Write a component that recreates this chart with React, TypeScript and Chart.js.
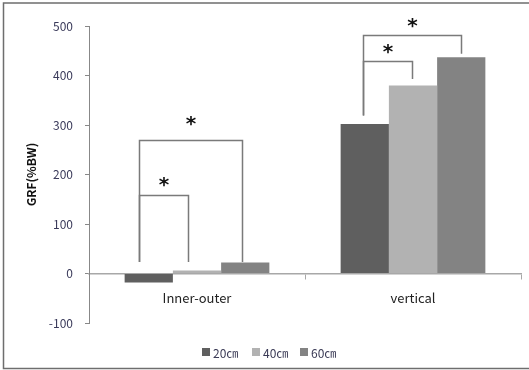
import React, { useEffect, useRef } from "react";
import { Chart, registerables } from "chart.js";

Chart.register(...registerables);

const categories = ["Inner-outer", "vertical"];
const seriesLabels = ["20㎝", "40㎝", "60㎝"];
const values20 = [-18, 302];
const values40 = [6, 380];
const values60 = [22, 437];
const yTicks = [-100, 0, 100, 200, 300, 400, 500];

// significance brackets: category, bar indices, values (data units) of top and leg ends
const bracketCats = [0, 0, 1, 1];
const bracketFrom = [0, 0, 0, 0];
const bracketTo = [1, 2, 1, 2];
const bracketTop = [159, 270, 430, 481];
const bracketLeftEnd = [23, 23, 319, 319];
const bracketRightEnd = [23, 23, 393, 444];
const bracketLabel = ["*", "*", "*", "*"];

const COLORS = ["#5f5f5f", "#b2b2b2", "#838383"];
const FONT = "'Noto Sans CJK KR', 'Noto Sans', sans-serif";
// horizontal nudges of bracket legs (fraction of bar width from bar centre)
const legLeftShift = [-0.21, -0.21, -0.04, -0.04];
const legRightShift = [-0.19, -0.06, -0.02, 0];
const starGap = [14, 20, 13, 13];

const overlayPlugin = {
  id: "overlay",
  afterDraw(chart: any) {
    const ctx = chart.ctx;
    const y = chart.scales.y;
    ctx.save();
    // frame
    ctx.strokeStyle = "#6e6e6e";
    ctx.lineWidth = 1.5;
    ctx.strokeRect(3.5, 3, 540, 365.5);

    // brackets
    for (let i = 0; i < bracketCats.length; i++) {
      const c = bracketCats[i];
      const barA = chart.getDatasetMeta(bracketFrom[i]).data[c];
      const barB = chart.getDatasetMeta(bracketTo[i]).data[c];
      const w = barA.width;
      const xl = Math.round(barA.x + legLeftShift[i] * w) + 0.5;
      const xr = Math.round(barB.x + legRightShift[i] * w) + 0.5;
      const yt = Math.round(y.getPixelForValue(bracketTop[i])) + 0.5;
      const yl = y.getPixelForValue(bracketLeftEnd[i]);
      const yr = y.getPixelForValue(bracketRightEnd[i]);
      ctx.strokeStyle = "#7a7a7a";
      ctx.lineWidth = 1.5;
      ctx.beginPath();
      ctx.moveTo(xl, yl);
      ctx.lineTo(xl, yt);
      ctx.lineTo(xr, yt);
      ctx.lineTo(xr, yr);
      ctx.stroke();
      ctx.fillStyle = "#111";
      ctx.font = "bold 20px 'DejaVu Sans', sans-serif";
      ctx.textAlign = "center";
      ctx.textBaseline = "alphabetic";
      const m = ctx.measureText(bracketLabel[i]);
      const cy = yt - starGap[i];
      const base = cy + (m.actualBoundingBoxAscent - m.actualBoundingBoxDescent) / 2;
      ctx.fillText(bracketLabel[i], (xl + xr) / 2, base);
    }

    // legend
    ctx.font = `12px ${FONT}`;
    ctx.textBaseline = "middle";
    ctx.textAlign = "left";
    const ly = 353;
    const boxX = [202, 252, 300];
    chart.data.datasets.forEach((ds: any, i: number) => {
      ctx.fillStyle = ds.backgroundColor;
      ctx.fillRect(boxX[i], ly - 5, 8, 8);
      ctx.fillStyle = "#3a3a55";
      ctx.fillText(ds.label, boxX[i] + 11, ly);
    });
    ctx.restore();
  },
};

export default function App() {
  const ref = useRef<HTMLCanvasElement>(null);
  useEffect(() => {
    const canvas = ref.current!;
    const chart = new Chart(canvas, {
      type: "bar",
      data: {
        labels: categories,
        datasets: [values20, values40, values60].map((v, i) => ({
          label: seriesLabels[i],
          data: v,
          backgroundColor: COLORS[i],
          borderWidth: 0,
          categoryPercentage: 0.67,
          barPercentage: 1.0,
        })),
      },
      options: {
        responsive: false,
        animation: false,
        layout: { padding: { left: 0, right: 8, top: 26, bottom: 47 } },
        plugins: {
          legend: { display: false },
          tooltip: { enabled: false },
        },
        scales: {
          x: {
            position: { y: 0 } as any,
            grid: {
              display: true,
              drawOnChartArea: false,
              drawTicks: true,
              tickLength: 5,
              color: "#a8a8a8",
              offset: true,
            },
            border: { display: true, color: "#a8a8a8", width: 1.5 },
            ticks: {
              color: "#222",
              padding: 12,
              font: { size: 13, family: FONT },
            },
          },
          y: {
            min: -100,
            max: 500,
            afterFit: (s: any) => {
              s.width = 89;
            },
            afterBuildTicks: (s: any) => {
              s.ticks = yTicks.map((v) => ({ value: v }));
            },
            grid: {
              drawOnChartArea: false,
              drawTicks: true,
              tickLength: 4,
              color: "#888",
            },
            border: { display: true, color: "#888", width: 1 },
            ticks: {
              color: "#3a3a5a",
              padding: 12,
              font: { size: 12, family: FONT },
            },
            title: {
              display: true,
              text: "GRF(%BW)",
              color: "#111",
              font: { size: 12, weight: "bold", family: FONT },
              padding: { top: 24, bottom: 0 },
            },
          },
        },
      },
      plugins: [overlayPlugin],
    });
    return () => chart.destroy();
  }, []);
  return (
    <div style={{ position: "fixed", left: 0, top: 0, width: 529, height: 370, background: "#fff" }}>
      <canvas ref={ref} width={529} height={370} style={{ display: "block" }} />
    </div>
  );
}
